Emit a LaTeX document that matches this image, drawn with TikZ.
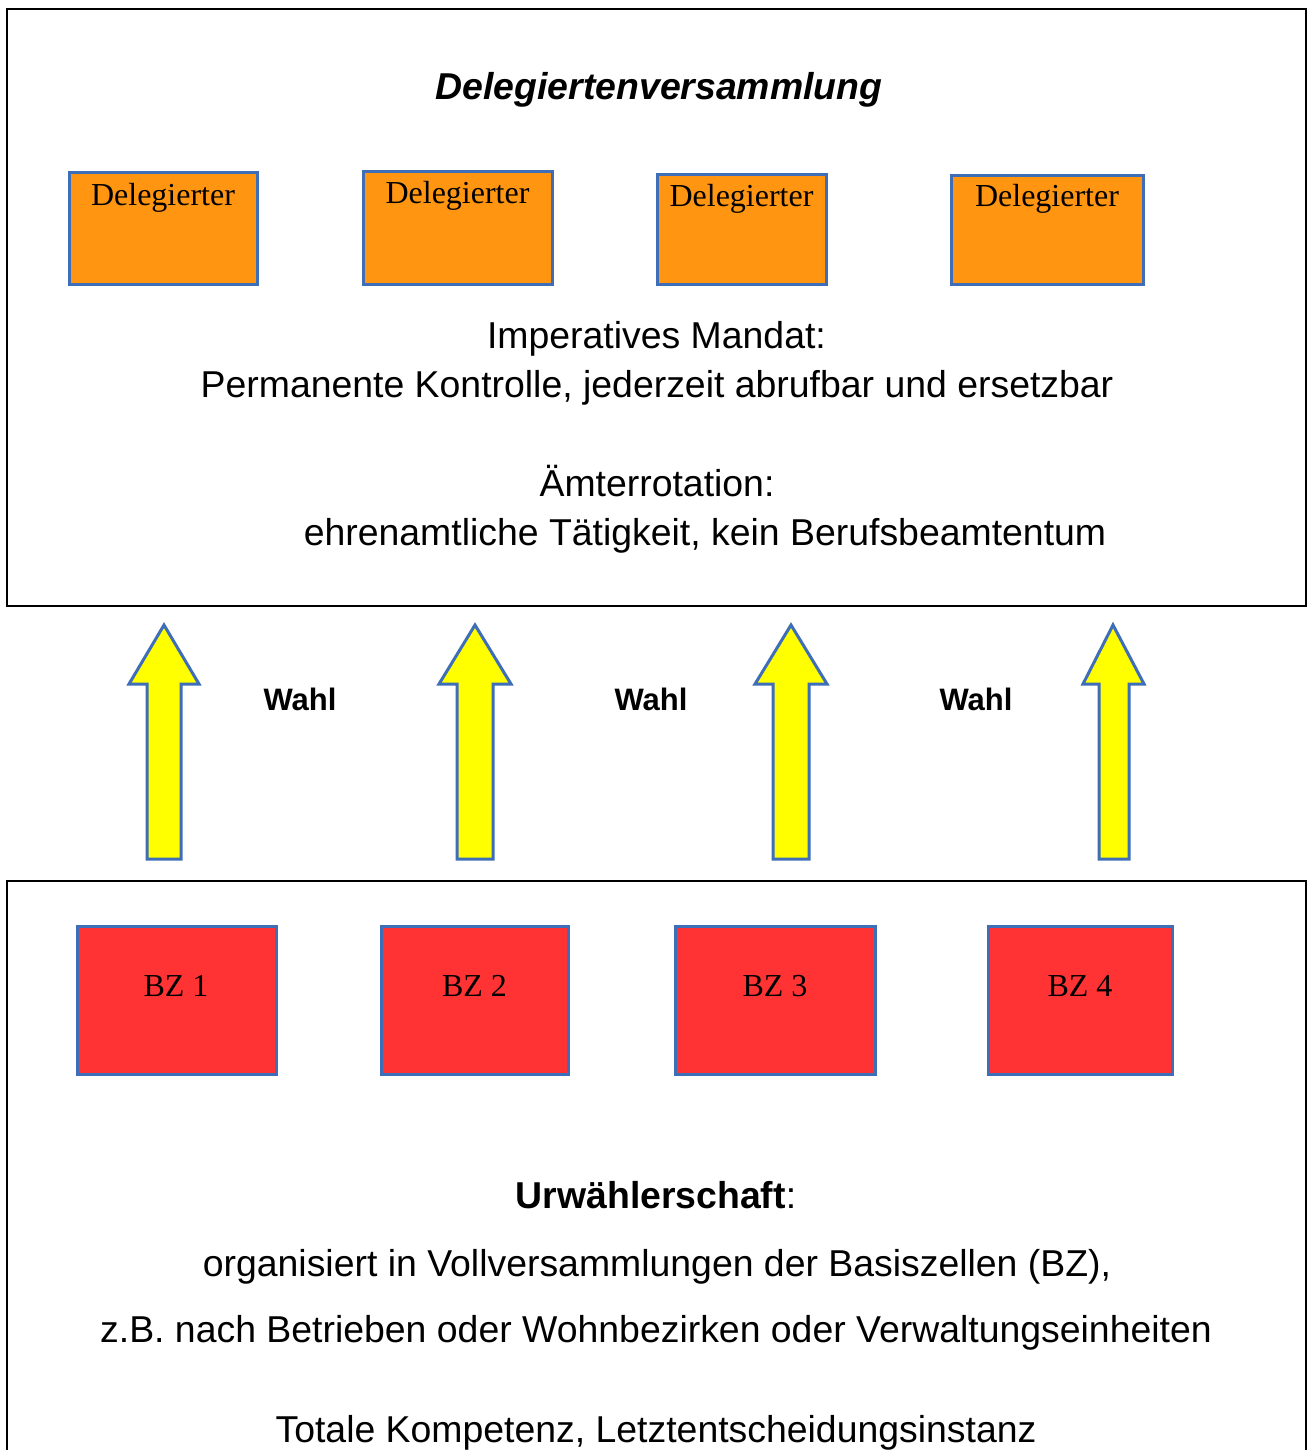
\documentclass[tikz,border=0pt]{standalone}
\usepackage{fontspec}
\setmainfont{Liberation Serif}
\newfontfamily\arialf{Liberation Sans}
\definecolor{bordblue}{RGB}{63,110,184}
\definecolor{delorange}{RGB}{255,149,16}
\definecolor{bzred}{RGB}{255,51,51}
\definecolor{arrowyellow}{RGB}{255,255,0}
\tikzset{
  frame/.style={draw=black, line width=2pt},
  delbox/.style={draw=bordblue, fill=delorange, line width=3pt, inner sep=0pt},
  bzbox/.style={draw=bordblue, fill=bzred, line width=3pt, inner sep=0pt},
  serlabel/.style={font=\fontsize{32}{38}\selectfont, anchor=base, inner sep=0pt},
  arialtext/.style={font=\arialf\fontsize{37.4}{44}\selectfont, anchor=base, inner sep=0pt},
  wahltext/.style={font=\arialf\bfseries\fontsize{31}{37}\selectfont, anchor=base, inner sep=0pt},
  blockarrow/.style={draw=bordblue, fill=arrowyellow, line width=3pt, line join=miter},
}
\newcommand{\myblockarrow}[5]{% tip x, head left, head right, shaft left, shaft right
  \draw[blockarrow] (#1,625) -- (#3,684) -- (#5,684) -- (#5,859) -- (#4,859) -- (#4,684) -- (#2,684) -- cycle;
}
\begin{document}
\begin{tikzpicture}[x=1pt,y=-1pt]
\useasboundingbox (0,0) rectangle (1308,1450);
\fill[white] (0,0) rectangle (1308,1450);

% top frame
\draw[frame] (7,9) rectangle (1306,606);
\node[font=\arialf\bfseries\itshape\fontsize{37.4}{44}\selectfont, anchor=base, inner sep=0pt] (title) at (659,100) {Delegiertenversammlung};

% Delegierter boxes
\node[delbox, minimum width=188pt, minimum height=111pt] (d1) at (163,228.5) {};
\node[delbox, minimum width=189pt, minimum height=112pt] (d2) at (457.5,228) {};
\node[delbox, minimum width=169pt, minimum height=109pt] (d3) at (741.5,229.5) {};
\node[delbox, minimum width=192pt, minimum height=108pt] (d4) at (1047,230) {};
\node[serlabel] (t1) at (163,205) {Delegierter};
\node[serlabel] (t2) at (457.5,204) {Delegierter};
\node[serlabel] (t3) at (741.5,207) {Delegierter};
\node[serlabel] (t4) at (1047,207) {Delegierter};

\node[arialtext] (m1) at (656.5,348) {Imperatives Mandat:};
\node[arialtext] (m2) at (657,397) {Permanente Kontrolle, jederzeit abrufbar und ersetzbar};
\node[arialtext] (m3) at (657,496) {Ämterrotation:};
\node[arialtext] (m4) at (705,545) {ehrenamtliche Tätigkeit, kein Berufsbeamtentum};

% arrows
\myblockarrow{164}{129}{199}{147}{181}
\myblockarrow{475}{439}{511}{457}{493}
\myblockarrow{791}{755}{827}{773}{809}
\myblockarrow{1113}{1083}{1144}{1099}{1129}
\node[wahltext] (w1) at (300,710) {Wahl};
\node[wahltext] (w2) at (651,710) {Wahl};
\node[wahltext] (w3) at (976,710) {Wahl};

% bottom frame (open at bottom)
\draw[frame] (7,1452) -- (7,881) -- (1306,881) -- (1306,1452);

\node[bzbox, minimum width=199pt, minimum height=148pt] (b1) at (176.5,1000) {};
\node[bzbox, minimum width=187pt, minimum height=148pt] (b2) at (474.5,1000) {};
\node[bzbox, minimum width=200pt, minimum height=148pt] (b3) at (775,1000) {};
\node[bzbox, minimum width=184pt, minimum height=148pt] (b4) at (1080,1000) {};
\node[serlabel] (bt1) at (176,996) {BZ 1};
\node[serlabel] (bt2) at (474.5,996) {BZ 2};
\node[serlabel] (bt3) at (775,996) {BZ 3};
\node[serlabel] (bt4) at (1080,996) {BZ 4};

\node[arialtext] (u1) at (656,1208) {\textbf{Urwählerschaft}:};
\node[arialtext] (u2) at (657,1276) {organisiert in Vollversammlungen der Basiszellen (BZ),};
\node[arialtext] (u3) at (656,1342) {z.B. nach Betrieben oder Wohnbezirken oder Verwaltungseinheiten};
\node[arialtext] (u4) at (656,1442) {Totale Kompetenz, Letztentscheidungsinstanz};
\end{tikzpicture}
\end{document}
